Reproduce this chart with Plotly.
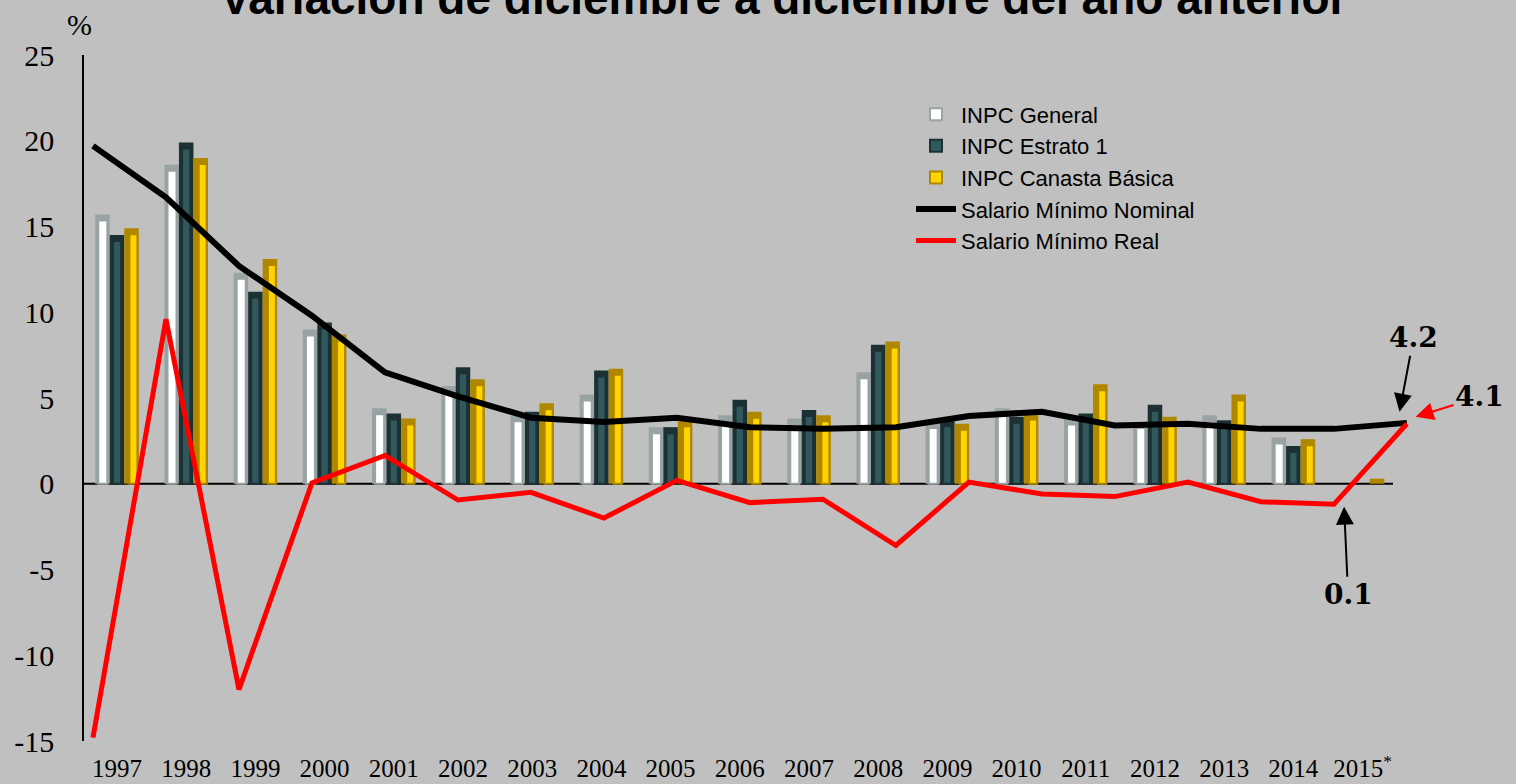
import plotly.graph_objects as go

years = list(range(1997, 2016))
year_labels = [str(y) for y in years[:-1]] + ["2015<sup>*</sup>"]

inpc_general = [15.7, 18.6, 12.3, 9.0, 4.4, 5.7, 4.0, 5.2, 3.3, 4.0, 3.8, 6.5, 3.6, 4.4, 3.8, 3.6, 4.0, 2.7, None]
inpc_estrato1 = [14.5, 19.9, 11.2, 9.4, 4.1, 6.8, 4.2, 6.6, 3.3, 4.9, 4.3, 8.1, 3.7, 3.9, 4.1, 4.6, 3.7, 2.2, None]
inpc_canasta = [14.9, 19.0, 13.1, 8.7, 3.8, 6.1, 4.7, 6.7, 3.7, 4.2, 4.0, 8.3, 3.5, 4.1, 5.8, 3.9, 5.2, 2.6, 0.3]

sm_nominal = [19.7, 16.7, 12.7, 9.8, 6.5, 5.1, 3.85, 3.6, 3.85, 3.3, 3.2, 3.3, 3.95, 4.2, 3.4, 3.5, 3.2, 3.2, 3.55]
sm_real = [-14.8, 9.6, -12.0, 0.05, 1.65, -0.95, -0.5, -2.0, 0.2, -1.1, -0.9, -3.6, 0.1, -0.6, -0.75, 0.1, -1.05, -1.2, 3.5]

y_ticks = [25, 20, 15, 10, 5, 0, -5, -10, -15]
y_ticktext = ["25", "20", "15", "10", "5", "0", "-5", "-10", "-15"]

BG = "#c0c0c0"
BAR_W = 0.21
CHAMFER = 0.35  # recorte superior de la cara interior (efecto bisel)

# (nombre, valores, cara, borde, desplazamiento, desplazamiento interior, ancho interior)
bar_series = [
    ("INPC General", inpc_general, "#ffffff", "#9aa3a3", -0.315, 0.045, 0.13),
    ("INPC Estrato 1", inpc_estrato1, "#30585d", "#1c3134", -0.105, 0.045, 0.12),
    ("INPC Canasta Básica", inpc_canasta, "#ffd400", "#b08800", 0.105, 0.075, 0.115),
]

fig = go.Figure()

for name, vals, face, edge, off, ioff, iw in bar_series:
    # cuerpo exterior (borde del bisel)
    fig.add_trace(go.Bar(
        x=years, y=vals, name=name, showlegend=False, hoverinfo="skip",
        width=BAR_W, offset=off,
        marker=dict(color=edge, line=dict(width=0)),
        xaxis="x", yaxis="y",
    ))
    inner = [v - CHAMFER if v is not None and v > CHAMFER else None for v in vals]
    fig.add_trace(go.Bar(
        x=years, y=inner, name=name,
        width=iw, offset=off + ioff,
        marker=dict(color=face, line=dict(color=edge, width=2)),
        xaxis="x", yaxis="y",
    ))

fig.add_trace(go.Scatter(
    x=years, y=sm_nominal, name="Salario Mínimo Nominal",
    mode="lines", line=dict(color="black", width=6),
    xaxis="x2", yaxis="y",
))
fig.add_trace(go.Scatter(
    x=years, y=sm_real, name="Salario Mínimo Real",
    mode="lines", line=dict(color="#ff0000", width=5),
    xaxis="x2", yaxis="y",
))

fig.add_shape(type="line", xref="x", yref="y", x0=1997 - 0.48, x1=2015 + 0.44, y0=0, y1=0,
              line=dict(color="black", width=2), layer="below")

serif = "Liberation Serif, Times New Roman, serif"
lbl = dict(family="DejaVu Serif", size=28, color="black")
arrow = dict(showarrow=True, arrowhead=2, arrowsize=1.8, arrowwidth=2)

annotations = [
    dict(text="<b>Variación de diciembre a diciembre del año anterior</b>", xref="paper", yref="paper",
         x=0.524, y=1.083, xanchor="center", yanchor="middle", showarrow=False,
         font=dict(family="Liberation Sans, Arial", size=46, color="black")),
    dict(text="%", xref="paper", yref="paper", x=-0.003, y=1.044, xanchor="center", yanchor="middle",
         showarrow=False, font=dict(family=serif, size=30, color="black")),
    # etiquetas con flecha
    dict(text="<b>4.2</b>", xref="x2", yref="y", x=2014.9, y=4.2, ax=14, ay=-74,
         arrowcolor="black", font=lbl, **arrow),
    dict(text="<b>4.1</b>", xref="x2", yref="y", x=2015.12, y=3.9, ax=64, ay=-20,
         arrowcolor="#ff0000", font=lbl, **arrow),
    dict(text="<b>0.1</b>", xref="x2", yref="y", x=2014.14, y=-1.34, ax=4, ay=88,
         arrowcolor="black", font=lbl, **arrow),
]

fig.update_layout(
    width=1516, height=784,
    paper_bgcolor=BG, plot_bgcolor=BG,
    margin=dict(l=84, r=96, t=55, b=43),
    barmode="overlay",
    showlegend=True,
    legend=dict(x=0.619, y=0.944, xanchor="left", yanchor="top",
                bgcolor="rgba(0,0,0,0)", traceorder="normal",
                font=dict(family="Liberation Sans, Arial", size=22, color="black"),
                itemwidth=40),
    xaxis=dict(range=[1997 - 0.477, 1997 + 18.83], tickmode="array", tickvals=years, ticktext=year_labels,
               showline=False, showgrid=False, zeroline=False, ticks="", automargin=False,
               tickfont=dict(family=serif, size=25, color="black"), ticklabelstandoff=10),
    xaxis2=dict(range=[1997 - 0.123, 1997 + 18.18], overlaying="x", visible=False),
    yaxis=dict(range=[-15, 25], tickmode="array", tickvals=y_ticks, ticktext=y_ticktext,
               showline=True, linecolor="black", linewidth=1.5, showgrid=False, zeroline=False, ticks="",
               automargin=False,
               tickfont=dict(family=serif, size=30, color="black"), ticklabelstandoff=22),
    annotations=annotations,
)

fig.write_html("out.html", config={"displayModeBar": False},
               post_script="document.body.style.margin='0';document.body.style.overflow='hidden';")
